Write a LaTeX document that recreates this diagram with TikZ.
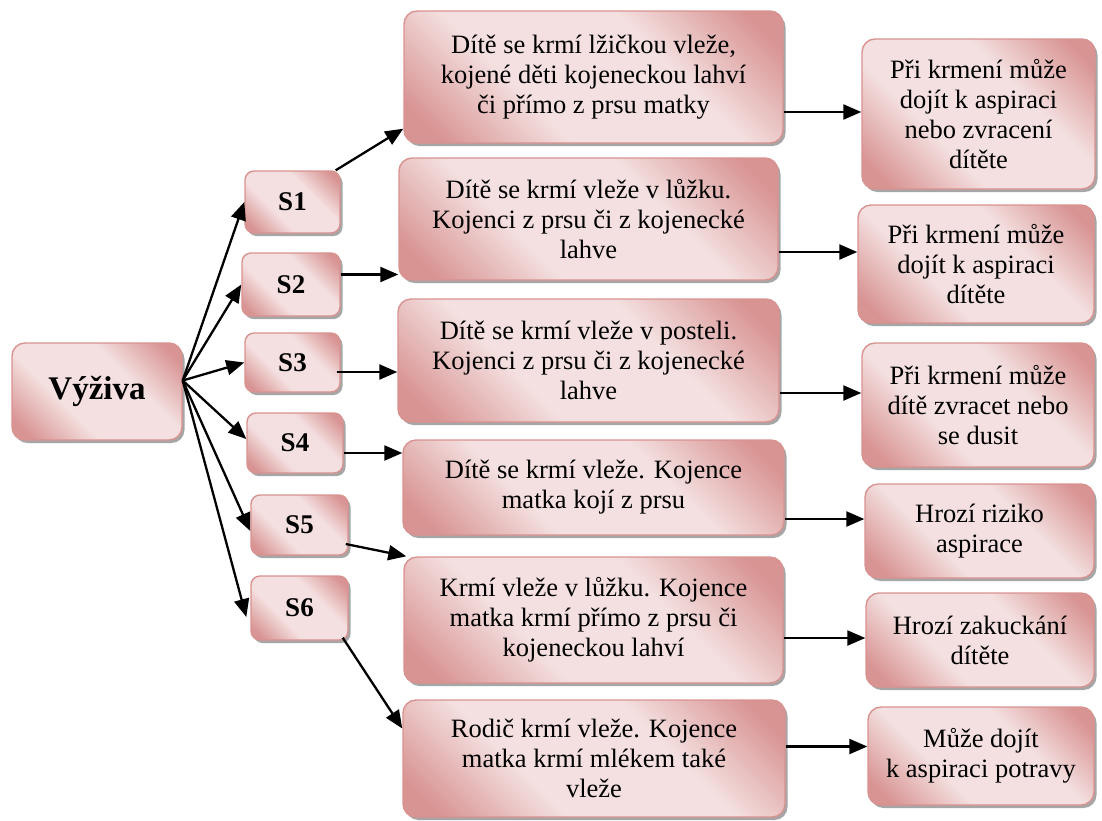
\documentclass[tikz,border=0pt]{standalone}
\usepackage{fontspec}
\setmainfont{Liberation Serif}
\usetikzlibrary{arrows.meta,shadows}
\definecolor{rdark}{RGB}{216,148,147}
\definecolor{rlight}{RGB}{244,224,224}
\definecolor{redge}{RGB}{216,146,144}
\pgfdeclareverticalshading{rosy}{100bp}{color(0bp)=(rdark); color(20bp)=(rdark); color(38bp)=(rlight); color(62bp)=(rlight); color(80bp)=(rdark); color(100bp)=(rdark)}
\tikzset{
  box/.style={draw=redge, line width=1.4pt, rounded corners=13pt,
    shading=rosy, shading angle=-45,
    drop shadow={shadow xshift=2.5pt, shadow yshift=-3pt, fill=black, opacity=0.35},
    align=center, inner sep=0pt, text=black},
  txt/.style={box, font=\fontsize{26.5}{30}\selectfont},
  sbox/.style={box, rounded corners=9pt, font=\bfseries\fontsize{27}{30}\selectfont},
  link/.style={line width=2.3pt, -{Triangle[length=18pt,width=15pt]}},
  sz/.style 2 args={minimum width=#1pt, minimum height=#2pt},
}
\begin{document}
\begin{tikzpicture}[x=1pt,y=-1pt]
\useasboundingbox (0,0) rectangle (1102,820);

% root
\node[box, font=\bfseries\fontsize{33}{36}\selectfont, sz={170}{97}] (V) at (97,391.5) {Výživa};

% first level
\node[sbox, sz={95}{62}] (S1) at (292.5,202) {S1};
\node[sbox, sz={98}{63}] (S2) at (291,284.5) {S2};
\node[sbox, sz={95}{59}] (S3) at (292.5,362.5) {S3};
\node[sbox, sz={96}{60}] (S4) at (295,443) {S4};
\node[sbox, sz={97}{60}] (S5) at (299.5,525) {S5};
\node[sbox, sz={97}{64}] (S6) at (299.5,608) {S6};

% descriptions
\node[txt, sz={379}{132}] (M1) at (593.5,77) {Dítě se krmí lžičkou vleže,\\kojené děti kojeneckou lahví\\či přímo z prsu matky};
\node[txt, sz={379}{122}] (M2) at (588.5,219) {Dítě se krmí vleže v lůžku.\\Kojenci z prsu či z kojenecké\\lahve};
\node[txt, sz={381}{123}] (M3) at (588.5,360.5) {Dítě se krmí vleže v posteli.\\Kojenci z prsu či z kojenecké\\lahve};
\node[txt, sz={381}{95}] (M4) at (593.5,487.5) {Dítě se krmí vleže. Kojence\\matka kojí z prsu};
\node[txt, sz={379}{126}] (M5) at (593.5,620) {Krmí vleže v lůžku. Kojence\\matka krmí přímo z prsu či\\kojeneckou lahví};
\node[txt, sz={382}{117}] (M6) at (594,758.5) {Rodič krmí vleže. Kojence\\matka krmí mlékem také\\vleže};

% risks
\node[txt, sz={233}{150}] (R1) at (978.5,114) {Při krmení může\\dojít k aspiraci\\nebo zvracení\\dítěte};
\node[txt, sz={236}{118}] (R2) at (976,264) {Při krmení může\\dojít k aspiraci\\dítěte};
\node[txt, sz={232}{124}] (R3) at (978,405) {Při krmení může\\dítě zvracet nebo\\se dusit};
\node[txt, sz={229}{94}] (R4) at (979.5,531) {Hrozí riziko\\aspirace};
\node[txt, sz={228}{94}] (R5) at (980,640) {Hrozí zakuckání\\dítěte};
\node[txt, sz={226}{98}] (R6) at (981,756) {Může dojít\\k aspiraci potravy};

% root to first level
\draw[link] ([yshift=11pt]V.east) -- (S1.west);
\draw[link] ([yshift=11pt]V.east) -- (S2.west);
\draw[link] ([yshift=11pt]V.east) -- (S3.west);
\draw[link] ([yshift=11pt]V.east) -- ([yshift=4pt]S4.west);
\draw[link] ([yshift=11pt]V.east) -- ([yshift=-6pt]S5.west);
\draw[link] ([yshift=11pt]V.east) -- ([xshift=-4pt,yshift=-9pt]S6.west);

% first level to descriptions
\draw[link] ([xshift=-5pt]S1.north east) -- ([yshift=15pt]M1.south west);
\draw[link] ([yshift=10pt]S2.east) -- ([yshift=10pt]S2.east -| M2.west);
\draw[link] ([xshift=-4pt,yshift=-9.5pt]S3.east) -- ([yshift=-9.5pt]S3.east -| M3.west);
\draw[link] ([yshift=-10pt]S4.east) -- ([yshift=-10pt]S4.east -| M4.west);
\draw[link] ([xshift=-3pt,yshift=-19pt]S5.east) -- ([xshift=3pt]M5.north west);
\draw[link] ([xshift=-6pt,yshift=3pt]S6.south east) -- ([yshift=30pt]M6.west);

% descriptions to risks
\draw[link] ([yshift=-35pt]M1.east) -- ([yshift=-35pt]M1.east -| R1.west);
\draw[link] ([yshift=-33pt]M2.east) -- ([yshift=-33pt]M2.east -| R2.west);
\draw[link] ([yshift=-32.5pt]M3.east) -- ([yshift=-32.5pt]M3.east -| R3.west);
\draw[link] ([yshift=-31.5pt]M4.east) -- ([yshift=-31.5pt]M4.east -| R4.west);
\draw[link] ([yshift=-18pt]M5.east) -- ([yshift=-18pt]M5.east -| R5.west);
\draw[link] ([yshift=12pt]M6.east) -- ([yshift=12pt]M6.east -| R6.west);
\end{tikzpicture}
\end{document}
